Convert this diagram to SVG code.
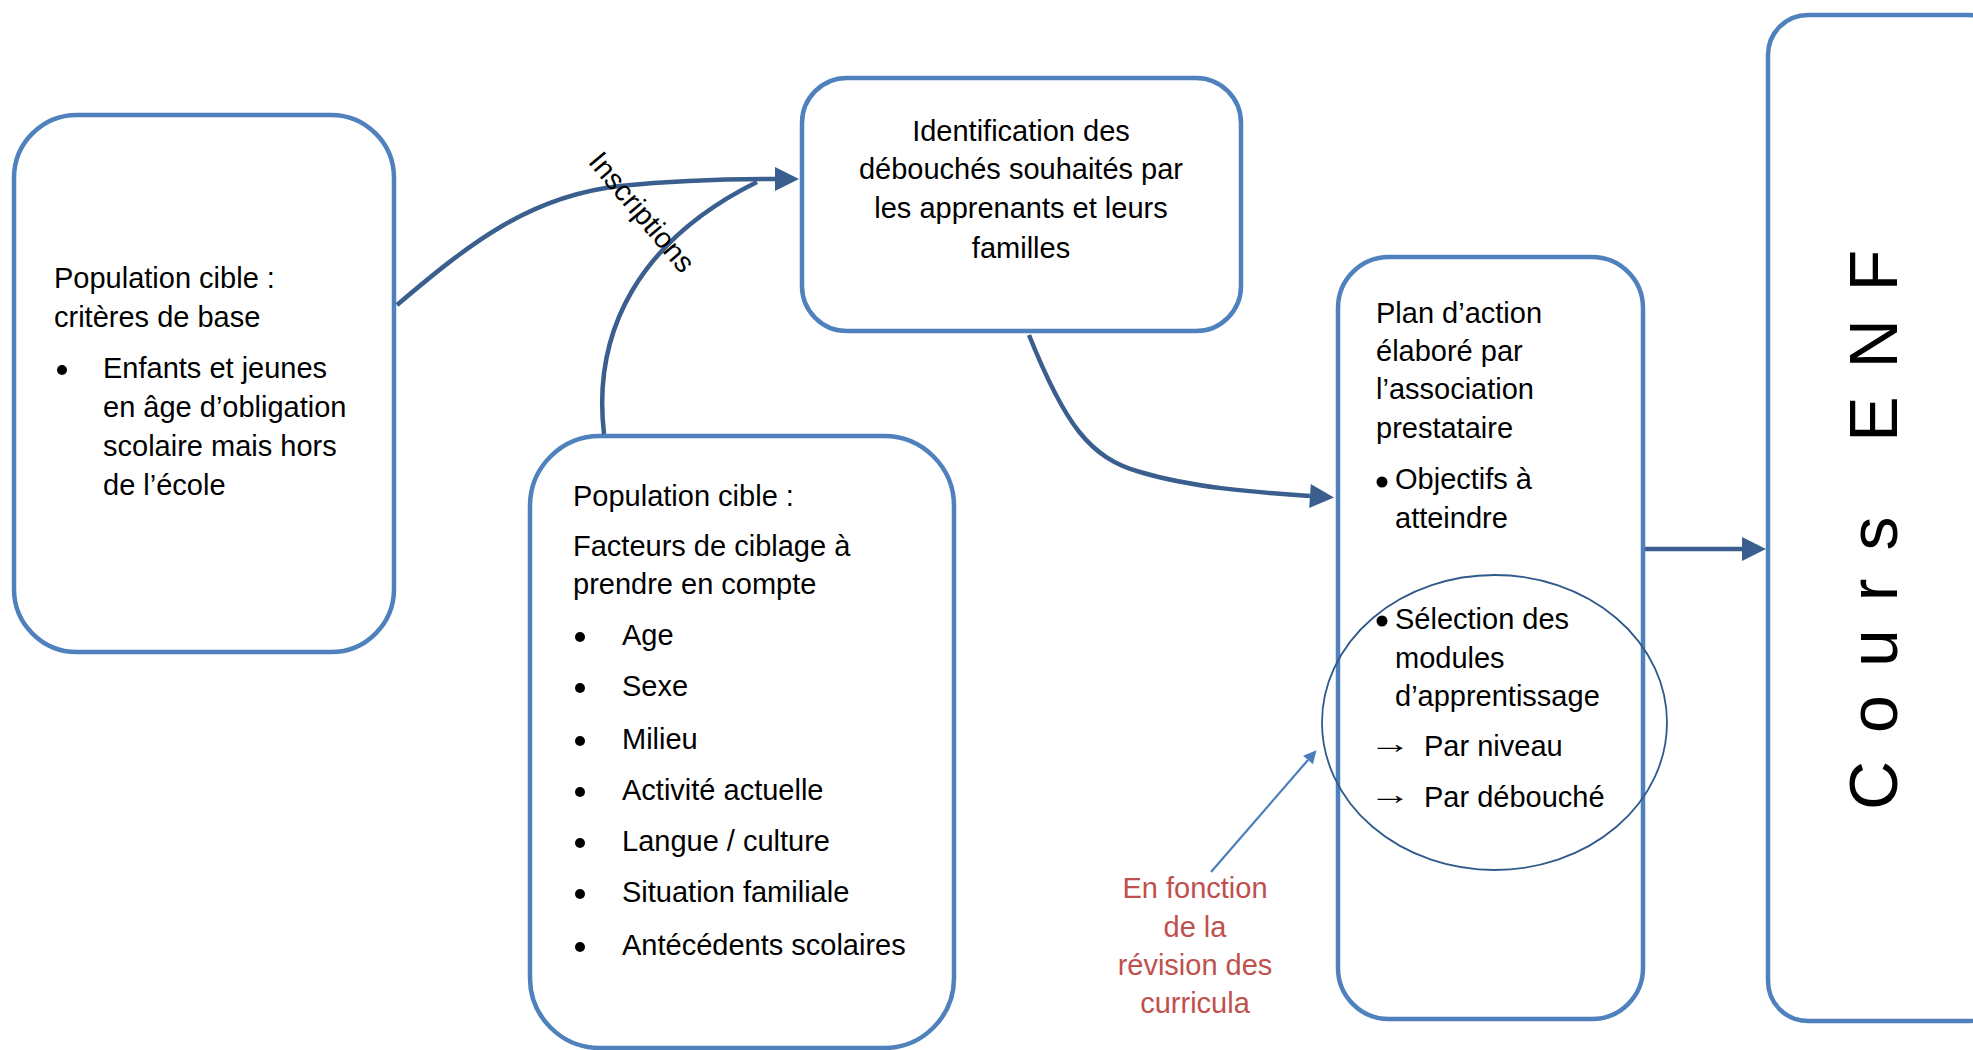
<svg xmlns="http://www.w3.org/2000/svg" width="1973" height="1050" viewBox="0 0 1973 1050">
  <style>
    .box { fill: #ffffff; stroke: #4F81BD; stroke-width: 4.5; }
    .txt { font-family: "Liberation Sans", Arial, sans-serif; font-size: 29px; fill: #000000; }
    .mid { text-anchor: middle; }
    .red { fill: #C0504D; }
    .bul { fill: #000000; }
    .conn { fill: none; stroke: #3A5F8F; stroke-width: 4.5; }
    .thin { fill: none; stroke: #4A7EBB; stroke-width: 2.2; }
    .ring { fill: none; stroke: #2F5A8A; stroke-width: 1.8; }
  </style>
  <defs>
    <marker id="head" viewBox="0 0 10 10" refX="0" refY="5" markerWidth="26" markerHeight="24" markerUnits="userSpaceOnUse" orient="auto">
      <path d="M0,0 L10,5 L0,10 z" fill="#3A5F8F"/>
    </marker>
    <marker id="headThin" viewBox="0 0 10 10" refX="0" refY="5" markerWidth="17" markerHeight="13" markerUnits="userSpaceOnUse" orient="auto">
      <path d="M0,0 L10,5 L0,10 z" fill="#4A7EBB"/>
    </marker>
  </defs>

  <!-- Population cible : critères de base -->
  <g id="node-criteres">
    <rect class="box" x="14" y="115" width="380" height="537" rx="63" ry="63"/>
    <text class="txt" x="54" y="288">Population cible :</text>
    <text class="txt" x="54" y="327">critères de base</text>
    <circle class="bul" cx="62" cy="370" r="5"/>
    <text class="txt" x="103" y="378">Enfants et jeunes</text>
    <text class="txt" x="103" y="417">en âge d’obligation</text>
    <text class="txt" x="103" y="456">scolaire mais hors</text>
    <text class="txt" x="103" y="495">de l’école</text>
  </g>

  <!-- Population cible : facteurs de ciblage -->
  <g id="node-facteurs">
    <rect class="box" x="530" y="436" width="424" height="612" rx="70" ry="70"/>
    <text class="txt" x="573" y="506">Population cible :</text>
    <text class="txt" x="573" y="556">Facteurs de ciblage à</text>
    <text class="txt" x="573" y="594">prendre en compte</text>
    <circle class="bul" cx="580" cy="637" r="5"/>
    <text class="txt" x="622" y="645">Age</text>
    <circle class="bul" cx="580" cy="688" r="5"/>
    <text class="txt" x="622" y="696">Sexe</text>
    <circle class="bul" cx="580" cy="741" r="5"/>
    <text class="txt" x="622" y="749">Milieu</text>
    <circle class="bul" cx="580" cy="792" r="5"/>
    <text class="txt" x="622" y="800">Activité actuelle</text>
    <circle class="bul" cx="580" cy="843" r="5"/>
    <text class="txt" x="622" y="851">Langue / culture</text>
    <circle class="bul" cx="580" cy="894" r="5"/>
    <text class="txt" x="622" y="902">Situation familiale</text>
    <circle class="bul" cx="580" cy="947" r="5"/>
    <text class="txt" x="622" y="955">Antécédents scolaires</text>
  </g>

  <!-- Identification des débouchés -->
  <g id="node-debouches">
    <rect class="box" x="802" y="78" width="439" height="253" rx="45" ry="45"/>
    <text class="txt mid" x="1021" y="141">Identification des</text>
    <text class="txt mid" x="1021" y="179">débouchés souhaités par</text>
    <text class="txt mid" x="1021" y="218">les apprenants et leurs</text>
    <text class="txt mid" x="1021" y="258">familles</text>
  </g>

  <!-- Plan d'action -->
  <g id="node-plan">
    <rect class="box" x="1338" y="257" width="305" height="762" rx="51" ry="51"/>
    <text class="txt" x="1376" y="323">Plan d’action</text>
    <text class="txt" x="1376" y="361">élaboré par</text>
    <text class="txt" x="1376" y="399">l’association</text>
    <text class="txt" x="1376" y="438">prestataire</text>
    <circle class="bul" cx="1382" cy="482" r="5.5"/>
    <text class="txt" x="1395" y="489">Objectifs à</text>
    <text class="txt" x="1395" y="528">atteindre</text>
    <circle class="bul" cx="1382" cy="621" r="5.5"/>
    <text class="txt" x="1395" y="629">Sélection des</text>
    <text class="txt" x="1395" y="668">modules</text>
    <text class="txt" x="1395" y="706">d’apprentissage</text>
    <text class="txt" transform="translate(1369,753) scale(1.45,1)">→</text>
    <text class="txt" x="1424" y="756">Par niveau</text>
    <text class="txt" transform="translate(1369,804) scale(1.45,1)">→</text>
    <text class="txt" x="1424" y="807">Par débouché</text>
    <ellipse class="ring" cx="1494.5" cy="722.5" rx="172.5" ry="147.5"/>
  </g>

  <!-- Cours ENF -->
  <g id="node-cours">
    <rect class="box" x="1768" y="15" width="240" height="1006" rx="40" ry="40"/>
    <text class="txt" letter-spacing="28" transform="translate(1897,810) rotate(-90)" style="font-size:68px">Cours ENF</text>
  </g>

  <!-- Annotation -->
  <g id="note-revision">
    <text class="txt mid red" x="1195" y="898">En fonction</text>
    <text class="txt mid red" x="1195" y="937">de la</text>
    <text class="txt mid red" x="1195" y="975">révision des</text>
    <text class="txt mid red" x="1195" y="1013">curricula</text>
  </g>

  <!-- Connectors -->
  <g id="connectors">
    <path class="conn" d="M397,305 C470,243 530,196 620,186 C680,180 730,179 775,179" marker-end="url(#head)"/>
    <path class="conn" d="M604,434 C592,330 640,240 757,182"/>
    <path class="conn" d="M1029,335 C1065,425 1090,458 1140,472 C1190,487 1250,492 1310,496" marker-end="url(#head)"/>
    <path class="conn" d="M1645,549 L1742,549" marker-end="url(#head)"/>
    <path class="thin" d="M1211,872 L1308,760" marker-end="url(#headThin)"/>
    <text class="txt" transform="translate(642,212) rotate(50)" text-anchor="middle" y="10">Inscriptions</text>
  </g>
</svg>
